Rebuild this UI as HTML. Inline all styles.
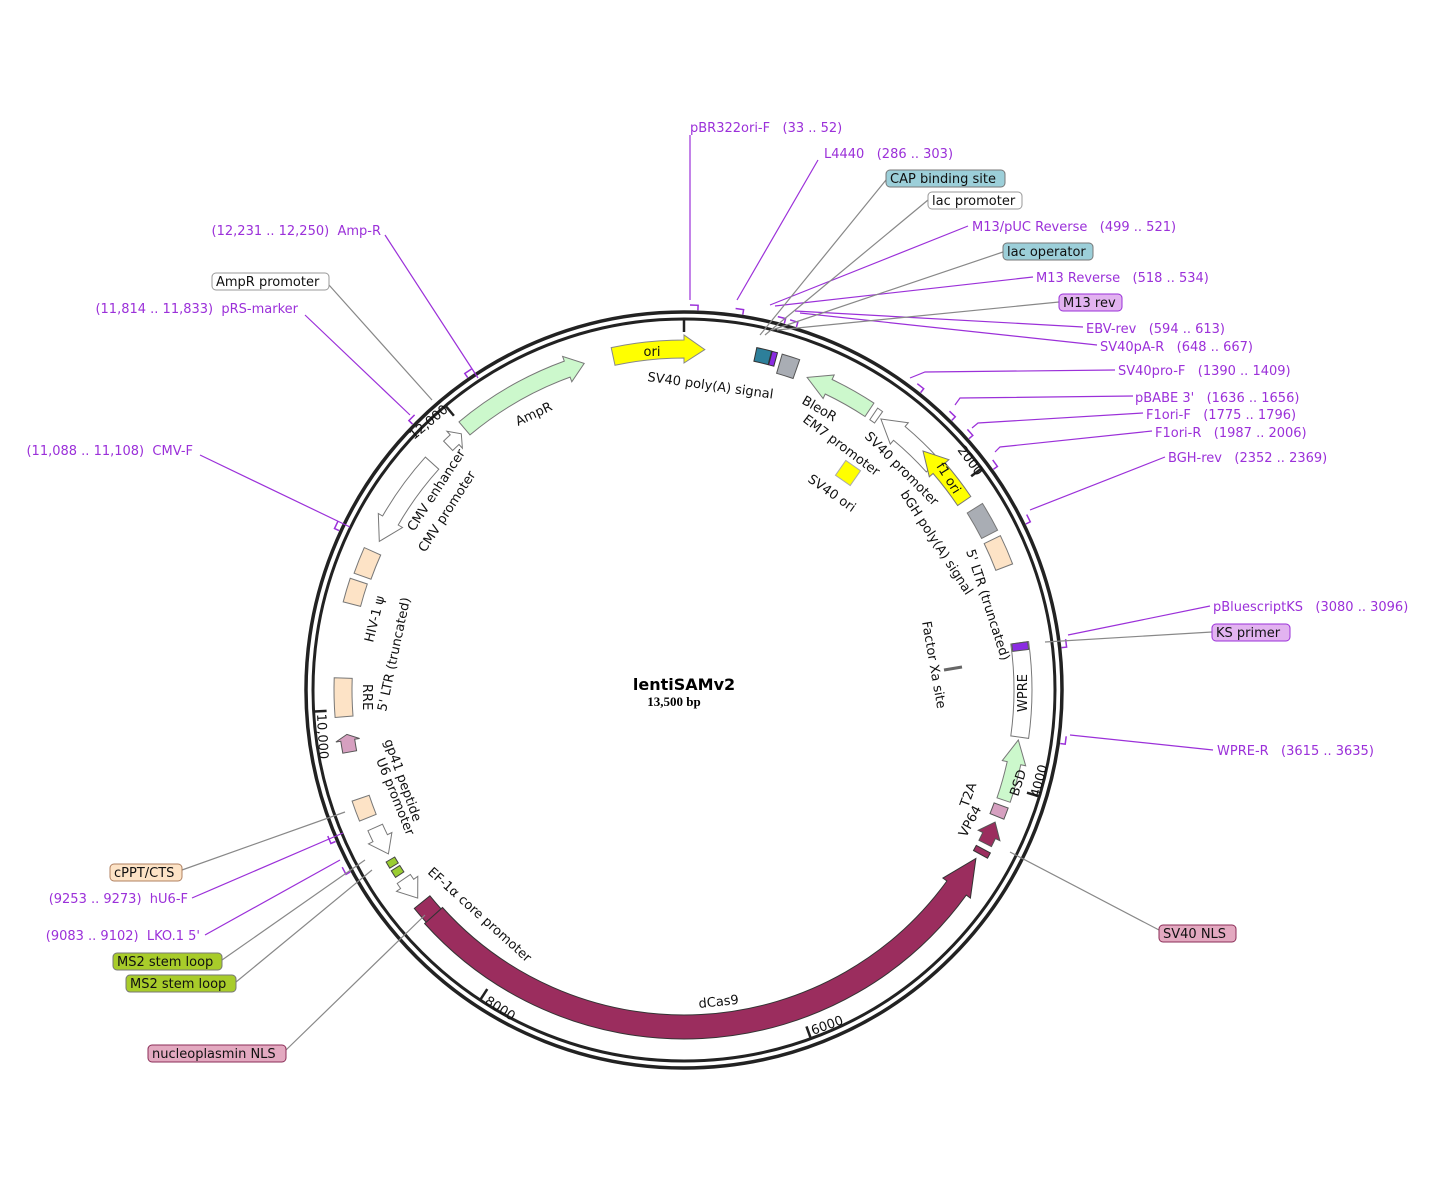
<!DOCTYPE html>
<html><head><meta charset="utf-8"><style>
html,body{margin:0;padding:0;background:#fff}
svg{display:block;font-family:"DejaVu Sans","Liberation Sans",sans-serif}
svg text{white-space:pre}
.p{fill:#9b30d9;font-size:13px}
.b{font-size:13px;fill:#111}
.f{font-size:13px;fill:#111}
</style></head><body>
<svg id="s" width="1438" height="1188" viewBox="0 0 1438 1188" xmlns="http://www.w3.org/2000/svg" xml:space="preserve">
<g id="shapes"></g>
<circle cx="684" cy="690" r="378" fill="none" stroke="#222" stroke-width="3.5"/>
<circle cx="684" cy="690" r="371" fill="none" stroke="#222" stroke-width="3"/>
<g id="ticks" stroke="#222" stroke-width="2.5"></g>

<g fill="none" stroke-width="1.2">
<g stroke="#9b30d9">
<polyline points="690,300 690,135"/>
<line x1="737" y1="300" x2="818" y2="160"/>
<line x1="770" y1="305" x2="968" y2="226"/>
<line x1="775" y1="306" x2="1033" y2="277"/>
<line x1="795" y1="311" x2="1083" y2="327"/>
<line x1="800" y1="313" x2="1097" y2="345"/>
<polyline points="910,378 925,372 1115,370"/>
<polyline points="955,405 960,398 1133,396"/>
<polyline points="972,428 978,423 1143,413"/>
<polyline points="995,452 1000,447 1152,431"/>
<line x1="1030" y1="510" x2="1165" y2="457"/>
<line x1="1068" y1="635" x2="1210" y2="606"/>
<line x1="1070" y1="735" x2="1213" y2="750"/>
<line x1="343" y1="833" x2="192" y2="898"/>
<line x1="340" y1="860" x2="205" y2="935"/>
<line x1="200" y1="455" x2="350" y2="527"/>
<line x1="305" y1="315" x2="410" y2="415"/>
<line x1="385" y1="235" x2="478" y2="378"/>
</g>
<g stroke="#888">
<line x1="760" y1="335" x2="886" y2="180"/>
<line x1="765" y1="335" x2="928" y2="200"/>
<line x1="772" y1="330" x2="1003" y2="252"/>
<line x1="777" y1="330" x2="1059" y2="302"/>
<line x1="1045" y1="642" x2="1212" y2="632"/>
<line x1="1010" y1="852" x2="1159" y2="930"/>
<line x1="425" y1="915" x2="286" y2="1050"/>
<line x1="372" y1="870" x2="236" y2="982"/>
<line x1="365" y1="860" x2="222" y2="960"/>
<line x1="345" y1="812" x2="182" y2="870"/>
<line x1="329" y1="285" x2="432" y2="400"/>
</g>
</g>

<rect x="886" y="170" width="119" height="17" rx="4" fill="#9ccfd9" stroke="#777"/>
<rect x="928" y="192" width="94" height="17" rx="4" fill="#fff" stroke="#999"/>
<rect x="1003" y="243" width="90" height="17" rx="4" fill="#9ccfd9" stroke="#777"/>
<rect x="1059" y="294" width="63" height="17" rx="4" fill="#e2b3f0" stroke="#9b30d9"/>
<rect x="1212" y="624" width="78" height="17" rx="4" fill="#e2b3f0" stroke="#9b30d9"/>
<rect x="1159" y="925" width="77" height="17" rx="4" fill="#e3a9c0" stroke="#8b2d57"/>
<rect x="148" y="1045" width="138" height="17" rx="4" fill="#e3a9c0" stroke="#8b2d57"/>
<rect x="126" y="975" width="110" height="17" rx="4" fill="#a8cc2a" stroke="#777"/>
<rect x="113" y="953" width="109" height="17" rx="4" fill="#a8cc2a" stroke="#777"/>
<rect x="110" y="864" width="72" height="17" rx="4" fill="#fde3c6" stroke="#b08060"/>
<rect x="212" y="273" width="117" height="17" rx="4" fill="#fff" stroke="#999"/>

<text class="p" x="690" y="132">pBR322ori-F   (33 .. 52)</text>
<text class="p" x="824" y="158">L4440   (286 .. 303)</text>
<text class="b" x="890" y="183">CAP binding site</text>
<text class="b" x="932" y="205">lac promoter</text>
<text class="p" x="972" y="231">M13/pUC Reverse   (499 .. 521)</text>
<text class="b" x="1007" y="256">lac operator</text>
<text class="p" x="1036" y="282">M13 Reverse   (518 .. 534)</text>
<text class="b" x="1063" y="307">M13 rev</text>
<text class="p" x="1086" y="333">EBV-rev   (594 .. 613)</text>
<text class="p" x="1100" y="351">SV40pA-R   (648 .. 667)</text>
<text class="p" x="1118" y="375">SV40pro-F   (1390 .. 1409)</text>
<text class="p" x="1135" y="402">pBABE 3'   (1636 .. 1656)</text>
<text class="p" x="1146" y="419">F1ori-F   (1775 .. 1796)</text>
<text class="p" x="1155" y="437">F1ori-R   (1987 .. 2006)</text>
<text class="p" x="1168" y="462">BGH-rev   (2352 .. 2369)</text>
<text class="p" x="1213" y="611">pBluescriptKS   (3080 .. 3096)</text>
<text class="b" x="1216" y="637">KS primer</text>
<text class="p" x="1217" y="755">WPRE-R   (3615 .. 3635)</text>
<text class="b" x="1163" y="938">SV40 NLS</text>
<text class="b" x="152" y="1058">nucleoplasmin NLS</text>
<text class="b" x="130" y="988">MS2 stem loop</text>
<text class="b" x="117" y="966">MS2 stem loop</text>
<text class="p" x="200" y="940" text-anchor="end">(9083 .. 9102)  LKO.1 5'</text>
<text class="p" x="188" y="903" text-anchor="end">(9253 .. 9273)  hU6-F</text>
<text class="b" x="114" y="877">cPPT/CTS</text>
<text class="p" x="193" y="455" text-anchor="end">(11,088 .. 11,108)  CMV-F</text>
<text class="p" x="298" y="313" text-anchor="end">(11,814 .. 11,833)  pRS-marker</text>
<text class="b" x="216" y="286">AmpR promoter</text>
<text class="p" x="381" y="235" text-anchor="end">(12,231 .. 12,250)  Amp-R</text>

<text x="684" y="690" text-anchor="middle" font-size="16" font-weight="bold" fill="#000">lentiSAMv2</text>
<text x="674" y="706" text-anchor="middle" font-size="13" font-weight="bold" fill="#000" font-family="Liberation Serif,serif">13,500 bp</text>

<g class="f">
<text x="652" y="356" text-anchor="middle">ori</text>
<text transform="translate(647,381) rotate(8)">SV40 poly(A) signal</text>
<text transform="translate(801,403) rotate(30)">BleoR</text>
<text transform="translate(802,421) rotate(37)">EM7 promoter</text>
<text transform="translate(864,437) rotate(45)">SV40 promoter</text>
<text transform="translate(807,481) rotate(35)">SV40 ori</text>
<text transform="translate(900,494) rotate(57)">bGH poly(A) signal</text>
<text transform="translate(966,551) rotate(72)">5' LTR (truncated)</text>
<text transform="translate(922,622) rotate(80)">Factor Xa site</text>
<text transform="translate(1027,712) rotate(-90)">WPRE</text>
<text transform="translate(1018,797) rotate(-72)">BSD</text>
<text transform="translate(968,808) rotate(-70)">T2A</text>
<text transform="translate(966,838) rotate(-62)">VP64</text>
<text transform="translate(936,466) rotate(58)">f1 ori</text>
<text transform="translate(699,1008) rotate(-6)">dCas9</text>
<text transform="translate(427,873) rotate(42)">EF-1α core promoter</text>
<text transform="translate(384,741) rotate(70)">gp41 peptide</text>
<text transform="translate(376,760) rotate(68)">U6 promoter</text>
<text transform="translate(363,684) rotate(90)">RRE</text>
<text transform="translate(386,712) rotate(-78)">5' LTR (truncated)</text>
<text transform="translate(373,643) rotate(-76)">HIV-1 ψ</text>
<text transform="translate(414,532) rotate(-57)">CMV enhancer</text>
<text transform="translate(425,553) rotate(-57)">CMV promoter</text>
<text transform="translate(518,426) rotate(-25)">AmpR</text>
<text transform="translate(414,440) rotate(-40)">12,000</text>
<text transform="translate(957,450) rotate(53)">2000</text>
<text transform="translate(1039,798) rotate(-75)">4000</text>
<text transform="translate(813,1035) rotate(-20)">6000</text>
<text transform="translate(484,1003) rotate(33)">8000</text>
<text transform="translate(317,714) rotate(87)">10,000</text>
</g>
</svg>
<script>
(function(){
var cx=684,cy=690,NS="http://www.w3.org/2000/svg";
function P(a,r){var t=a*Math.PI/180;return [cx+r*Math.sin(t),cy-r*Math.cos(t)];}
function s(p){return p[0].toFixed(1)+","+p[1].toFixed(1);}
var G=document.getElementById("shapes");
function add(tag,attrs,parent){var e=document.createElementNS(NS,tag);for(var k in attrs)e.setAttribute(k,attrs[k]);(parent||G).appendChild(e);return e;}
function band(a1,a2,r1,r2,fill,dir,stroke,hd){
  stroke=stroke||"#777";hd=hd||3.5;var w=5;
  var d;
  var lg=(a2-a1)>180?1:0;
  if(dir==0){
    d="M"+s(P(a1,r2))+" A"+r2+","+r2+" 0 "+lg+" 1 "+s(P(a2,r2))+" L"+s(P(a2,r1))+" A"+r1+","+r1+" 0 "+lg+" 0 "+s(P(a1,r1))+"Z";
  }else if(dir==1){
    var b=a2-hd;lg=(b-a1)>180?1:0;
    d="M"+s(P(a1,r2))+" A"+r2+","+r2+" 0 "+lg+" 1 "+s(P(b,r2))+" L"+s(P(b,r2+w))+" L"+s(P(a2,(r1+r2)/2))+" L"+s(P(b,r1-w))+" L"+s(P(b,r1))+" A"+r1+","+r1+" 0 "+lg+" 0 "+s(P(a1,r1))+"Z";
  }else{
    var b=a1+hd;lg=(a2-b)>180?1:0;
    d="M"+s(P(a2,r2))+" A"+r2+","+r2+" 0 "+lg+" 0 "+s(P(b,r2))+" L"+s(P(b,r2+w))+" L"+s(P(a1,(r1+r2)/2))+" L"+s(P(b,r1-w))+" L"+s(P(b,r1))+" A"+r1+","+r1+" 0 "+lg+" 1 "+s(P(a2,r1))+"Z";
  }
  add("path",{d:d,fill:fill,stroke:stroke,"stroke-width":1});
}
band(-12,3.5,332,350,"#ffff00",1,"#888",3.5);
band(-40,-17,333,350,"#ccf8cc",1,"#777",3);
band(-44,-41,333,346,"#fff",1,"#777",1.5);
band(-64,-48,330,348,"#fff",-1,"#777",4);
band(21.5,33.5,328,344,"#ccf8cc",-1,"#777",4);
band(34.5,35.5,328,342,"#fff",0);
band(36,48,326,344,"#fff",-1,"#777",4);
band(45,56,330,346,"#ffff00",-1,"#777",4);
band(58,63,334,352,"#a9adb4",0);
band(64,69,334,352,"#fde3c6",0);
band(82,98,330,348,"#fff",0);
band(82,83.3,331,347,"#8a2be2",0,"#555");
band(98.5,109,331,345,"#ccf8cc",-1,"#777",4);
band(110,112,330,345,"#d6a0c0",0,"#555");
band(113,117,331,345,"#9b2d5e",-1,"#555",2.5);
band(118,119,331,347,"#9b2d5e",0,"#333");
band(120,228,325,349,"#9b2d5e",-1,"#333",6);
band(228,231,327,347,"#9b2d5e",0,"#333");
band(232,236,330,346,"#fff",-1,"#777",3);
band(237,238.3,334,344,"#9acd32",0,"#444");
band(238.8,240,334,344,"#9acd32",0,"#444");
band(241,246,330,346,"#fff",-1,"#777",3);
band(248,251.5,332,350,"#fde3c6",0);
band(259.5,262.5,333,347,"#d6a0c0",1,"#555",1);
band(265.5,272,332,350,"#fde3c6",0);
band(284.5,288.5,334,352,"#fde3c6",0);
band(289.5,294,332,350,"#fde3c6",0);
band(12,14.5,336,350,"#2d7f9a",0,"#333");
band(14.6,15.5,336,350,"#8a2be2",0,"#333");
band(16.3,19.3,330,350,"#a9adb4",0,"#555");
add("rect",{x:-9,y:-9,width:18,height:18,fill:"#ffff00",stroke:"#aaa",transform:"translate(848,473) rotate(35)"});
add("line",{x1:944,y1:670,x2:962,y2:667,stroke:"#666","stroke-width":3});
var T=document.getElementById("ticks");
[0,2000,4000,6000,8000,10000,12000].forEach(function(bp){var a=bp/13500*360;var p1=P(a,370),p2=P(a,358);add("line",{x1:p1[0],y1:p1[1],x2:p2[0],y2:p2[1]},T);});
var pr=[0.9,7.7,14.1,16,37.3,43.6,47.4,53.3,62.9,82.4,96.9,247.7,242.6,296,315.6,326.5];
pr.forEach(function(a){var sg=a>180?-1:1;var p1=P(a,385),p2=P(a+sg*1.2,385),p3=P(a+sg*1.2,380);add("polyline",{points:s(p1)+" "+s(p2)+" "+s(p3),fill:"none",stroke:"#9b30d9","stroke-width":1.5});});
})();
</script>
</body></html>
